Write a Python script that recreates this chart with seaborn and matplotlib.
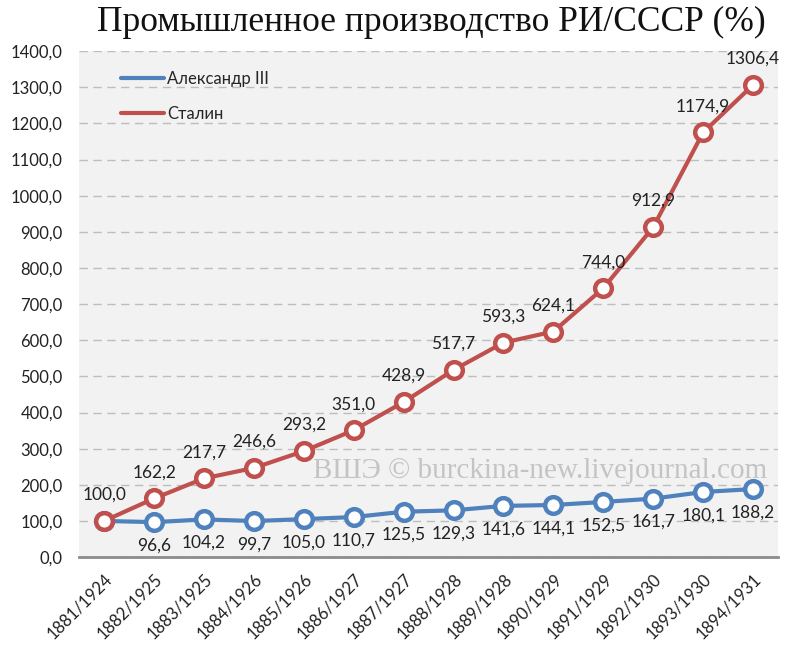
import matplotlib
matplotlib.use("Agg")
import matplotlib.pyplot as plt
import seaborn as sns
import pandas as pd
from matplotlib.lines import Line2D

# данные
years = ["1881/1924", "1882/1925", "1883/1925", "1884/1926", "1885/1926", "1886/1927",
         "1887/1927", "1888/1928", "1889/1928", "1890/1929", "1891/1929", "1892/1930",
         "1893/1930", "1894/1931"]
alex = [100.0, 96.6, 104.2, 99.7, 105.0, 110.7, 125.5, 129.3, 141.6, 144.1, 152.5, 161.7, 180.1, 188.2]
stalin = [100.0, 162.2, 217.7, 246.6, 293.2, 351.0, 428.9, 517.7, 593.3, 624.1, 744.0, 912.9, 1174.9, 1306.4]
y_ticks = list(range(0, 1401, 100))

blue = "#4f81bd"
red = "#c0504d"

sns.set_theme(style="white")
plt.rcParams['font.family'] = ['Lato', 'DejaVu Sans']

df = pd.DataFrame({"pos": list(range(len(years))) * 2,
                   "value": alex + stalin,
                   "series": ["Александр III"] * len(years) + ["Сталин"] * len(years)})

fig = plt.figure(figsize=(8, 6.47), dpi=100)
ax = fig.add_axes([0.099, 0.139, 0.8735, 0.782])
ax.set_facecolor("#f2f2f2")

sns.lineplot(data=df, x="pos", y="value", hue="series", palette=[blue, red],
             marker="o", markersize=12, markerfacecolor="white", markeredgewidth=3.2,
             linewidth=3, ax=ax, legend=False, zorder=3)
for ln, c in zip(ax.lines, [blue, red]):
    ln.set_markeredgecolor(c)

# подписи
for i, v in enumerate(stalin):
    ax.annotate(f"{v:.1f}".replace(".", ","), (i, v), xytext=(0, 13), textcoords="offset points",
                ha="center", va="bottom", fontsize=12.5, color="#222222")
for i, v in enumerate(alex):
    if i == 0:
        continue
    ax.annotate(f"{v:.1f}".replace(".", ","), (i, v), xytext=(0, -11), textcoords="offset points",
                ha="center", va="top", fontsize=12.5, color="#222222")

ax.set_xlim(-0.5, len(years) - 0.5)
ax.set_ylim(0, 1400)
ax.set_yticks(y_ticks)
ax.set_yticklabels([f"{t:.1f}".replace(".", ",") for t in y_ticks], fontsize=12, color="#222222")
ax.yaxis.grid(True, linestyle=(0, (6, 4)), color="#bdbdbd", linewidth=1)
ax.set_axisbelow(True)

ax.set_xticks(range(len(years)))
ax.set_xticklabels(years, rotation=45, ha="right", rotation_mode="anchor", fontsize=12, color="#222222")
ax.set_xticks([i - 0.5 for i in range(len(years) + 1)], minor=True)
ax.tick_params(axis="x", which="major", length=0, pad=10)
ax.tick_params(axis="x", which="minor", length=6, width=2, color="#8c8c8c", direction="out")
ax.tick_params(axis="y", length=0, pad=12)
ax.set_xlabel("")
ax.set_ylabel("")
for s in ["top", "right", "left"]:
    ax.spines[s].set_visible(False)
ax.spines["bottom"].set_color("#8c8c8c")
ax.spines["bottom"].set_linewidth(2)

# легенда
handles = [Line2D([], [], color=blue, linewidth=3), Line2D([], [], color=red, linewidth=3)]
ax.legend(handles, ["Александр III", "Сталин"], loc="upper left", bbox_to_anchor=(0.038, 0.99),
          frameon=False, fontsize=12, handlelength=2.6, handletextpad=0.2, labelspacing=1.1)

ax.text(0.985, 0.17, "ВШЭ © burckina-new.livejournal.com", transform=ax.transAxes,
        ha="right", va="center", fontsize=21, color="#c4c4c4", family=["Liberation Serif"], zorder=1)

fig.text(0.539, 0.965, "Промышленное производство РИ/СССР (%)", ha="center", va="center",
         fontsize=25.5, family=["Liberation Serif"], color="#111111")

fig.savefig("out.png", dpi=100)
